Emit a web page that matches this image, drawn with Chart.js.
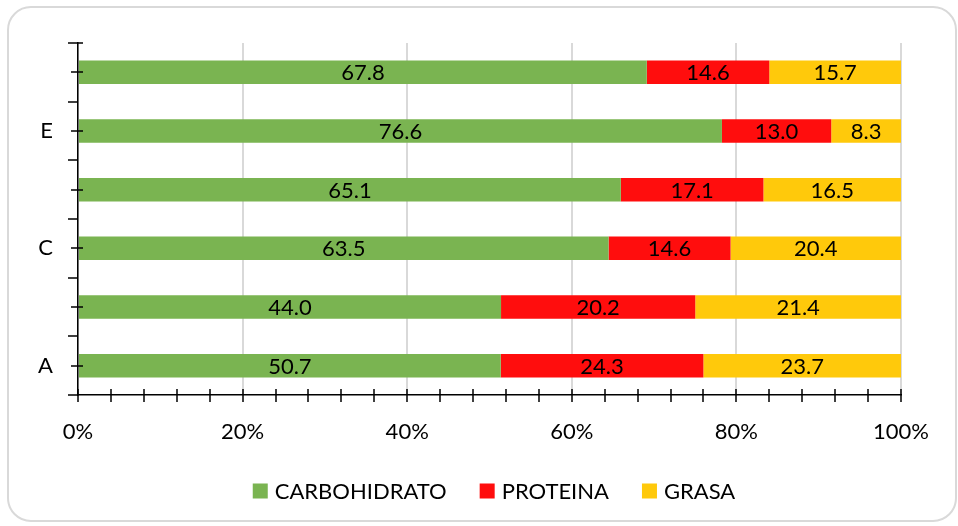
<!DOCTYPE html>
<html>
<head>
<meta charset="utf-8">
<script src="https://cdn.jsdelivr.net/npm/chart.js@4"></script>
<style>
html, body { margin: 0; padding: 0; background: #fff; }
#wrap { position: relative; width: 958px; height: 526px; overflow: hidden; }
#marco { position: absolute; left: 7px; top: 6px; width: 950px; height: 516px; border: 2px solid #d9d9d9; border-radius: 24px; box-sizing: border-box; }
canvas { position: absolute; left: 0; top: 0; }
</style>
</head>
<body>
<div id="wrap">
  <div id="marco"></div>
  <canvas id="grafico" width="958" height="526"></canvas>
</div>
<script>
// datos (de abajo hacia arriba)
const categorias = ['A', 'B', 'C', 'D', 'E', 'F'];
const carbohidrato = [50.7, 44.0, 63.5, 65.1, 76.6, 67.8];
const proteina = [24.3, 20.2, 14.6, 17.1, 13.0, 14.6];
const grasa = [23.7, 21.4, 20.4, 16.5, 8.3, 15.7];
const series = ['CARBOHIDRATO', 'PROTEINA', 'GRASA'];
const colores = ['#7ab451', '#ff0d0d', '#ffc90b'];

const fuente = 'Lato';

// barras al 100%: cada valor como porcentaje del total de su categoria
const totales = categorias.map((c, i) => carbohidrato[i] + proteina[i] + grasa[i]);
const aPorcentaje = arr => arr.map((v, i) => v / totales[i] * 100);

// etiquetas de valor dentro de cada segmento
const etiquetas = {
    id: 'etiquetas',
    afterDatasetsDraw(chart) {
        const ctx = chart.ctx;
        ctx.save();
        ctx.font = '22px ' + fuente;
        ctx.fillStyle = '#000';
        ctx.textAlign = 'center';
        ctx.textBaseline = 'middle';
        chart.data.datasets.forEach((ds, d) => {
            chart.getDatasetMeta(d).data.forEach((bar, i) => {
                const p = bar.getProps(['x', 'y', 'base'], true);
                ctx.fillText(ds.valores[i].toFixed(1), (p.x + p.base) / 2, p.y + 1);
            });
        });
        ctx.restore();
    }
};

// marcas de los ejes (estilo excel)
const marcas = {
    id: 'marcas',
    afterDraw(chart) {
        const ctx = chart.ctx;
        const x = chart.scales.x, y = chart.scales.y;
        ctx.save();
        ctx.strokeStyle = '#000';
        ctx.lineWidth = 1.5;
        ctx.beginPath();
        for (let v = 0; v <= 100; v += 4) {
            const px = Math.round(x.getPixelForValue(v));
            ctx.moveTo(px, y.bottom - 6);
            ctx.lineTo(px, y.bottom + 7);
        }
        for (let i = 0; i < categorias.length; i++) {
            const pc = Math.round(y.getPixelForValue(i));
            ctx.moveTo(x.left - 7, pc);
            ctx.lineTo(x.left + 5, pc);
        }
        for (let i = 0; i <= categorias.length; i++) {
            const pb = Math.round(y.getPixelForValue(i - 0.5));
            ctx.moveTo(x.left - 10, pb);
            ctx.lineTo(x.left, pb);
        }
        ctx.moveTo(x.left - 10, y.top);
        ctx.lineTo(x.left + 5, y.top);
        ctx.stroke();
        ctx.restore();
    }
};

// leyenda inferior
const leyenda = {
    id: 'leyenda',
    afterDraw(chart) {
        const ctx = chart.ctx;
        ctx.save();
        ctx.font = '22px ' + fuente;
        ctx.textBaseline = 'middle';
        const caja = 15, sep = 7, hueco = 33;
        const anchos = series.map(s => caja + sep + ctx.measureText(s).width);
        const total = anchos.reduce((a, b) => a + b, 0) + hueco * (series.length - 1);
        let cx = 494 - total / 2;
        const cy = 491;
        series.forEach((s, i) => {
            ctx.fillStyle = colores[i];
            ctx.fillRect(cx, cy - caja / 2, caja, caja);
            ctx.fillStyle = '#000';
            ctx.fillText(s, cx + caja + sep, cy + 1);
            cx += anchos[i] + hueco;
        });
        ctx.restore();
    }
};

const ctx = document.getElementById('grafico').getContext('2d');
new Chart(ctx, {
    type: 'bar',
    data: {
        labels: categorias,
        datasets: [
            { label: series[0], data: aPorcentaje(carbohidrato), valores: carbohidrato, backgroundColor: colores[0] },
            { label: series[1], data: aPorcentaje(proteina), valores: proteina, backgroundColor: colores[1] },
            { label: series[2], data: aPorcentaje(grasa), valores: grasa, backgroundColor: colores[2] }
        ]
    },
    options: {
        indexAxis: 'y',
        responsive: false,
        animation: false,
        layout: { padding: { top: 43, right: 57, left: 0, bottom: 0 } },
        datasets: { bar: { categoryPercentage: 1, barPercentage: 0.4 } },
        scales: {
            x: {
                stacked: true,
                min: 0,
                max: 100,
                ticks: {
                    stepSize: 20,
                    padding: 24,
                    color: '#000',
                    font: { family: fuente, size: 22 },
                    callback: v => v + '%'
                },
                grid: { color: '#d9d9d9', lineWidth: 2, drawTicks: false },
                border: { color: '#000', width: 1.5 },
                afterFit: s => { s.height = 131; }
            },
            y: {
                stacked: true,
                reverse: true,
                ticks: {
                    autoSkip: false,
                    padding: 25,
                    color: '#000',
                    font: { family: fuente, size: 22 },
                    callback: v => (v % 2 === 0 ? categorias[v] : '')
                },
                grid: { display: false, drawTicks: false },
                border: { color: '#000', width: 1.5 },
                afterFit: s => { s.width = 78; }
            }
        },
        plugins: {
            legend: { display: false },
            tooltip: { enabled: false }
        }
    },
    plugins: [etiquetas, marcas, leyenda]
});
</script>
</body>
</html>
